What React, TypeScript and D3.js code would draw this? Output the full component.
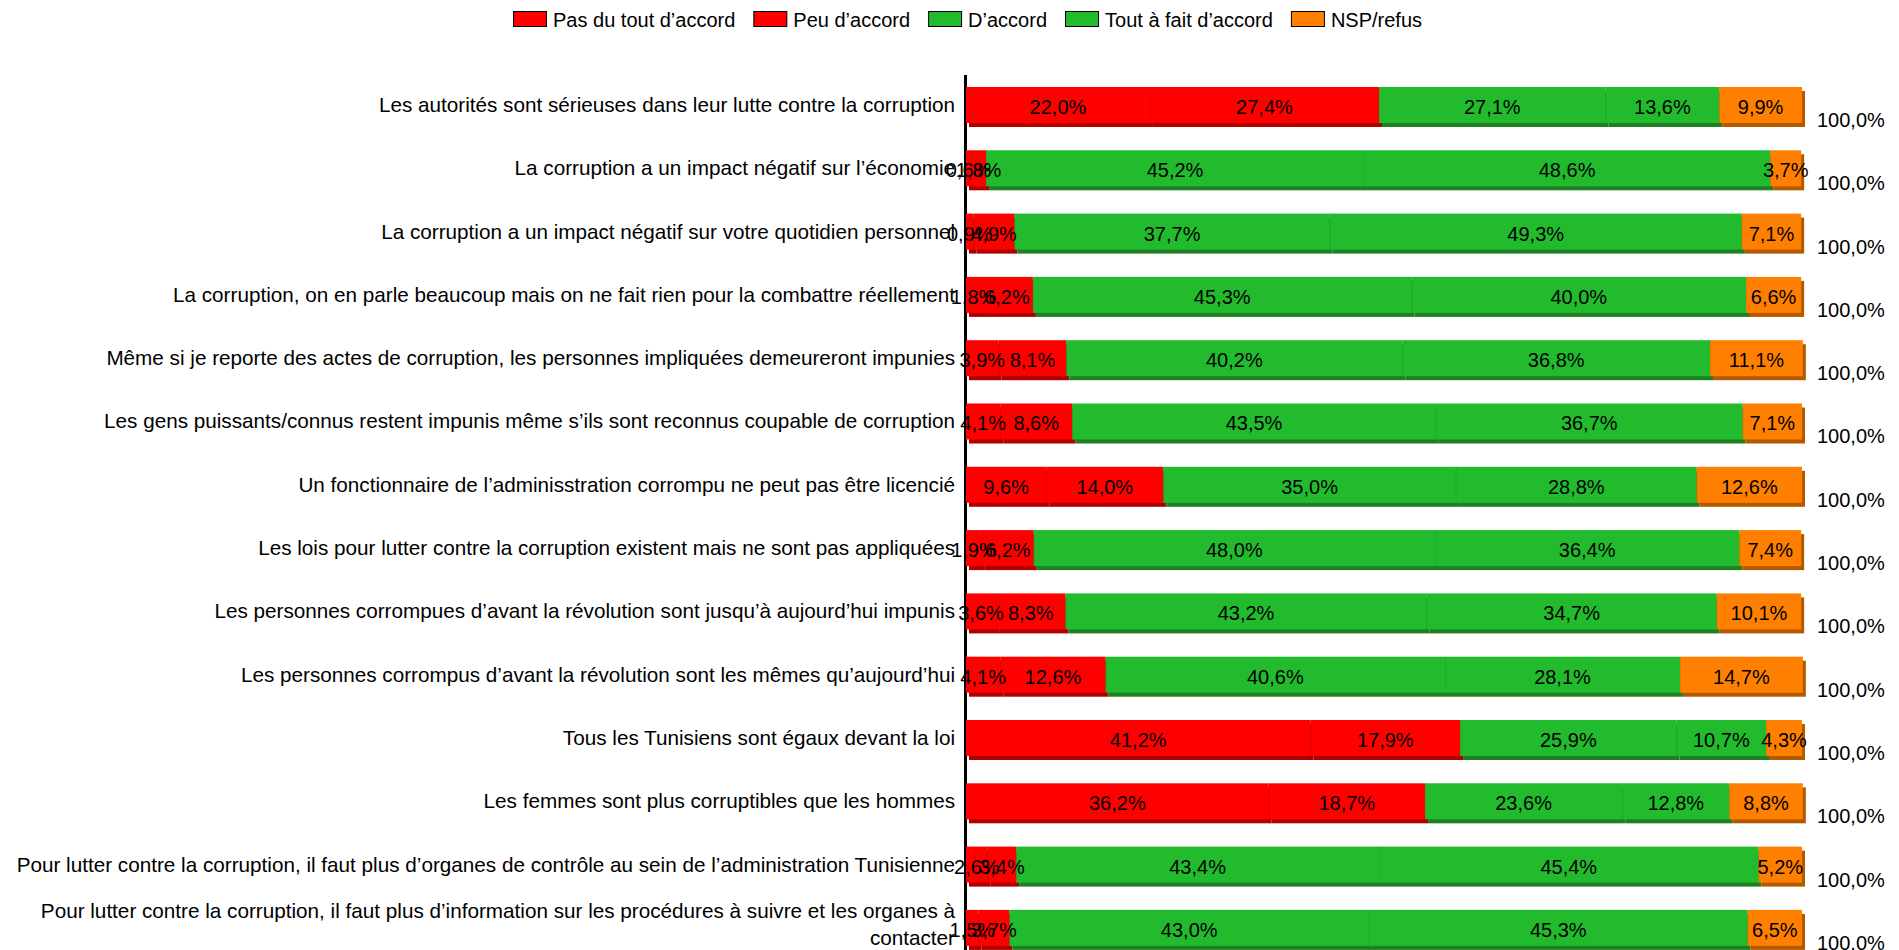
import * as d3 from 'd3';
import React, { useEffect, useRef } from 'react';

const categories = [
  "Les autorités sont sérieuses dans leur lutte contre la corruption",
  "La corruption a un impact négatif sur l’économie",
  "La corruption a un impact négatif sur votre quotidien personnel",
  "La corruption, on en parle beaucoup mais on ne fait rien pour la combattre réellement",
  "Même si je reporte des actes de corruption, les personnes impliquées demeureront impunies",
  "Les gens puissants/connus restent impunis même s’ils sont reconnus coupable de corruption",
  "Un fonctionnaire de l’adminisstration corrompu ne peut pas être licencié",
  "Les lois pour lutter contre la corruption existent mais ne sont pas appliquées",
  "Les personnes corrompues d’avant la révolution sont jusqu’à aujourd’hui impunis",
  "Les personnes corrompus d’avant la révolution sont les mêmes qu’aujourd’hui",
  "Tous les Tunisiens sont égaux devant la loi",
  "Les femmes sont plus corruptibles que les hommes",
  "Pour lutter contre la corruption, il faut plus d’organes de contrôle au sein de l’administration Tunisienne",
  "Pour lutter contre la corruption, il faut plus d’information sur les procédures à suivre et les organes à contacter",
];

const seriesNames = ["Pas du tout d’accord", "Peu d’accord", "D’accord", "Tout à fait d’accord", "NSP/refus"];
const seriesColors = ["#ff0000", "#ff0000", "#23bb2e", "#23bb2e", "#ff8000"];
const shadowColors = ["#b00000", "#b00000", "#1e8022", "#1e8022", "#b35a00"];

const pasDuTout = [22.0, 0.6, 0.9, 1.8, 3.9, 4.1, 9.6, 1.9, 3.6, 4.1, 41.2, 36.2, 2.6, 1.5];
const peu = [27.4, 1.8, 4.9, 6.2, 8.1, 8.6, 14.0, 6.2, 8.3, 12.6, 17.9, 18.7, 3.4, 3.7];
const dAccord = [27.1, 45.2, 37.7, 45.3, 40.2, 43.5, 35.0, 48.0, 43.2, 40.6, 25.9, 23.6, 43.4, 43.0];
const toutAFait = [13.6, 48.6, 49.3, 40.0, 36.8, 36.7, 28.8, 36.4, 34.7, 28.1, 10.7, 12.8, 45.4, 45.3];
const nsp = [9.9, 3.7, 7.1, 6.6, 11.1, 7.1, 12.6, 7.4, 10.1, 14.7, 4.3, 8.8, 5.2, 6.5];
const totals = [100, 100, 100, 100, 100, 100, 100, 100, 100, 100, 100, 100, 100, 100];

const W = 1899;
const H = 950;
const FONT = "'Liberation Sans', Arial, sans-serif";

const fmt = (v: number) => d3.format(".1f")(v).replace(".", ",") + "%";

export default function App() {
  const svgRef = useRef<SVGSVGElement>(null);

  useEffect(() => {
    if (!svgRef.current) return;
    const svg = d3.select(svgRef.current);
    svg.selectAll("*").remove();

    const series = [pasDuTout, peu, dAccord, toutAFait, nsp];
    const rows = categories.map((c, i) => {
      const r: any = { cat: c, total: totals[i] };
      series.forEach((s, k) => (r["s" + k] = s[i]));
      return r;
    });
    const keys = series.map((_, k) => "s" + k);
    const stacked = d3.stack().keys(keys)(rows);

    const x = d3.scaleLinear().domain([0, 100]).range([966, 1802]);
    const y = d3
      .scaleBand()
      .domain(categories)
      .range([59.7, 973.2])
      .padding(0.431);
    const bh = y.bandwidth();

    // axis line (sits under the bars)
    svg.append("line")
      .attr("x1", 965.5).attr("x2", 965.5)
      .attr("y1", 75).attr("y2", H)
      .attr("stroke", "#000").attr("stroke-width", 3);

    // 3D-ish shadows first
    stacked.forEach((layer, k) => {
      svg.append("g").selectAll("rect")
        .data(layer)
        .join("rect")
        .attr("x", d => x(d[0]) + 3)
        .attr("y", d => (y((d.data as any).cat) || 0) + 4)
        .attr("width", d => Math.max(0, x(d[1]) - x(d[0])))
        .attr("height", bh)
        .attr("fill", shadowColors[k]);
    });

    stacked.forEach((layer, k) => {
      const g = svg.append("g");
      g.selectAll("rect")
        .data(layer)
        .join("rect")
        .attr("x", d => x(d[0]))
        .attr("y", d => y((d.data as any).cat) || 0)
        .attr("width", d => Math.max(0, x(d[1]) - x(d[0])))
        .attr("height", bh)
        .attr("fill", seriesColors[k]);
      g.selectAll("line")
        .data(layer)
        .join("line")
        .attr("x1", d => x(d[0]) + 0.5)
        .attr("x2", d => x(d[0]) + 0.5)
        .attr("y1", d => y((d.data as any).cat) || 0)
        .attr("y2", d => (y((d.data as any).cat) || 0) + bh)
        .attr("stroke", shadowColors[k])
        .attr("stroke-opacity", k === 0 ? 0 : 0.2);
    });

    // value labels
    stacked.forEach((layer) => {
      svg.append("g").selectAll("text")
        .data(layer)
        .join("text")
        .attr("x", d => (x(d[0]) + x(d[1])) / 2)
        .attr("y", d => (y((d.data as any).cat) || 0) + 27)
        .attr("text-anchor", "middle")
        .attr("font-family", FONT)
        .attr("font-size", 20)
        .attr("fill", "#000")
        .text(d => fmt(d[1] - d[0]));
    });

    // totals
    svg.append("g").selectAll("text")
      .data(rows)
      .join("text")
      .attr("x", 1817)
      .attr("y", d => (y(d.cat) || 0) + 40)
      .attr("font-family", FONT)
      .attr("font-size", 20)
      .attr("fill", "#000")
      .text(d => fmt(d.total));

    // category labels (wrap when too long)
    const maxW = 950;
    const labelX = 955;
    categories.forEach((c) => {
      const top = y(c) || 0;
      const t = svg.append("text")
        .attr("x", labelX)
        .attr("text-anchor", "end")
        .attr("font-family", FONT)
        .attr("font-size", 20.7)
        .attr("fill", "#000")
        .text(c);
      const node = t.node() as SVGTextElement;
      if (node.getComputedTextLength() <= maxW) {
        t.attr("y", top + 25);
        return;
      }
      const words = c.split(" ");
      const lines: string[] = [];
      let cur: string[] = [];
      t.text("");
      const probe = t.append("tspan");
      words.forEach((w) => {
        const test = [...cur, w].join(" ");
        probe.text(test);
        if ((probe.node() as SVGTSpanElement).getComputedTextLength() > maxW && cur.length) {
          lines.push(cur.join(" "));
          cur = [w];
        } else {
          cur.push(w);
        }
      });
      lines.push(cur.join(" "));
      probe.remove();
      const lh = 27;
      const first = top + 25 - 3 - ((lines.length - 1) * lh) / 2;
      lines.forEach((ln, i) => {
        t.append("tspan").attr("x", labelX).attr("y", first + i * lh).text(ln);
      });
    });

    // legend
    const leg = svg.append("g");
    let lx = 513;
    seriesNames.forEach((name, k) => {
      leg.append("rect")
        .attr("x", lx + 0.5).attr("y", 11.5)
        .attr("width", 33).attr("height", 15)
        .attr("fill", seriesColors[k])
        .attr("stroke", "#000").attr("stroke-width", 1);
      const t = leg.append("text")
        .attr("x", lx + 40).attr("y", 27)
        .attr("font-family", FONT)
        .attr("font-size", 20)
        .attr("fill", "#000")
        .text(name);
      lx += 40 + (t.node() as SVGTextElement).getComputedTextLength() + 18;
    });
  }, []);

  return (
    <svg
      ref={svgRef}
      width={W}
      height={H}
      style={{ position: "absolute", left: 0, top: 0, background: "#fff" }}
    />
  );
}
